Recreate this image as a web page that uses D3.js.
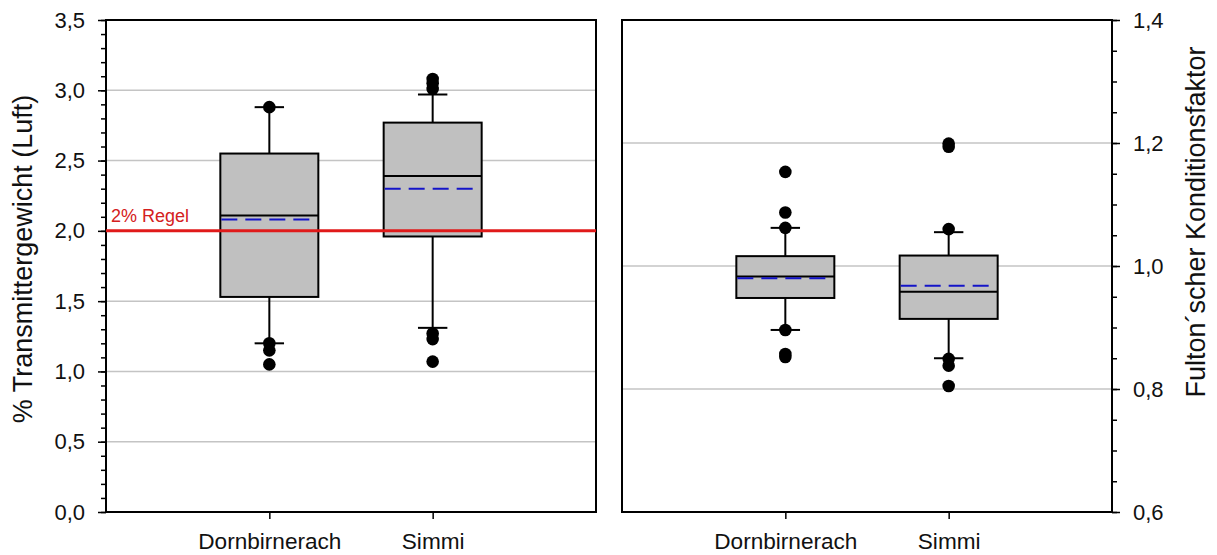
<!DOCTYPE html>
<html>
<head>
<meta charset="utf-8">
<script src="https://cdn.jsdelivr.net/npm/d3@7/dist/d3.min.js"></script>
<style>
  html, body { margin: 0; padding: 0; background: #fff; }
  svg { display: block; font-family: "Liberation Sans", Arial, sans-serif; }
</style>
</head>
<body>
<svg id="chart" width="1217" height="555"></svg>
<script>
// ---------- data ----------
const categories = ["Dornbirnerach", "Simmi"];

// Left panel: % Transmittergewicht (Luft)
const transQ1 = [1.53, 1.96];
const transMedian = [2.11, 2.39];
const transQ3 = [2.55, 2.77];
const transMean = [2.08, 2.30];
const transWhiskerLow = [1.20, 1.31];
const transWhiskerHigh = [2.88, 2.97];
const transOutliers = [
  [2.88, 1.20, 1.15, 1.05],
  [3.08, 3.05, 3.01, 1.27, 1.23, 1.07]
];
const transTicks = [0.0, 0.5, 1.0, 1.5, 2.0, 2.5, 3.0, 3.5];
const transGrid = [0.5, 1.0, 1.5, 2.0, 2.5, 3.0];
const ruleValue = 2.0;
const ruleLabel = "2% Regel";

// Right panel: Fulton´scher Konditionsfaktor
const condQ1 = [0.948, 0.914];
const condMedian = [0.983, 0.958];
const condQ3 = [1.016, 1.017];
const condMean = [0.980, 0.968];
const condWhiskerLow = [0.896, 0.850];
const condWhiskerHigh = [1.062, 1.055];
const condOutliers = [
  [1.153, 1.087, 1.062, 0.896, 0.857, 0.852],
  [1.199, 1.194, 1.060, 0.849, 0.838, 0.805]
];
const condTicks = [0.6, 0.8, 1.0, 1.2, 1.4];
const condGrid = [0.8, 1.0, 1.2];

const leftTitle = "% Transmittergewicht (Luft)";
const rightTitle = "Fulton\u00B4scher Konditionsfaktor";

// ---------- layout ----------
const svg = d3.select("#chart");
const yTop = 20, yBottom = 512;
const L = { x0: 106, x1: 596 };
const R = { x0: 622, x1: 1112 };
const fmt = d => d3.format(".1f")(d).replace(".", ",");
const tickFont = 22;
const catFont = 22.6;

function panel(p, yDomain, ticks, minorStep, grid, stats, side) {
  const x = d3.scalePoint().domain(categories).range([p.x0, p.x1]).padding(1);
  const y = d3.scaleLinear().domain(yDomain).range([yBottom, yTop]);
  const g = svg.append("g");
  const step = x.step();
  const boxW = step * 0.6;
  const capW = boxW * 0.3;

  // gridlines
  g.selectAll(".grid").data(grid).join("line")
    .attr("x1", p.x0).attr("x2", p.x1)
    .attr("y1", d => y(d)).attr("y2", d => y(d))
    .attr("stroke", "#c4c4c4").attr("stroke-width", 1.5);

  // minor ticks
  const minor = d3.range(yDomain[0], yDomain[1] + 1e-9, minorStep);
  const axisMinor = (side === "left" ? d3.axisLeft(y) : d3.axisRight(y))
    .tickValues(minor).tickSize(5).tickSizeOuter(0).tickFormat("");
  const gm = g.append("g").attr("transform", `translate(${side === "left" ? p.x0 : p.x1},0)`).call(axisMinor);
  gm.select(".domain").remove();
  gm.selectAll("line").attr("stroke", "#000").attr("stroke-width", 1.5);

  // major ticks
  const axisMajor = (side === "left" ? d3.axisLeft(y) : d3.axisRight(y))
    .tickValues(ticks).tickSize(8).tickSizeOuter(0).tickPadding(13).tickFormat(fmt);
  const ga = g.append("g").attr("transform", `translate(${side === "left" ? p.x0 : p.x1},0)`).call(axisMajor);
  ga.select(".domain").remove();
  ga.selectAll("line").attr("stroke", "#000").attr("stroke-width", 1.5);
  ga.selectAll("text").attr("font-size", tickFont).attr("fill", "#111")
    .attr("font-family", "Liberation Sans, Arial, sans-serif");

  // bottom axis
  const axisB = d3.axisBottom(x).tickSize(7).tickSizeOuter(0).tickPadding(14);
  const gb = g.append("g").attr("transform", `translate(0,${yBottom})`).call(axisB);
  gb.select(".domain").remove();
  gb.selectAll("line").attr("stroke", "#000").attr("stroke-width", 1.5);
  gb.selectAll("text").attr("font-size", catFont).attr("fill", "#111")
    .attr("font-family", "Liberation Sans, Arial, sans-serif");

  const idx = d3.range(categories.length);
  const boxes = g.append("g").selectAll("g").data(idx).join("g");

  // whiskers
  boxes.append("line")
    .attr("x1", i => x(categories[i])).attr("x2", i => x(categories[i]))
    .attr("y1", i => y(stats.q3[i])).attr("y2", i => y(stats.hi[i]))
    .attr("stroke", "#000").attr("stroke-width", 2);
  boxes.append("line")
    .attr("x1", i => x(categories[i])).attr("x2", i => x(categories[i]))
    .attr("y1", i => y(stats.q1[i])).attr("y2", i => y(stats.lo[i]))
    .attr("stroke", "#000").attr("stroke-width", 2);
  // caps
  [stats.hi, stats.lo].forEach(arr => {
    boxes.append("line")
      .attr("x1", i => x(categories[i]) - capW / 2).attr("x2", i => x(categories[i]) + capW / 2)
      .attr("y1", i => y(arr[i])).attr("y2", i => y(arr[i]))
      .attr("stroke", "#000").attr("stroke-width", 2);
  });
  // box
  boxes.append("rect")
    .attr("x", i => x(categories[i]) - boxW / 2).attr("width", boxW)
    .attr("y", i => y(stats.q3[i])).attr("height", i => y(stats.q1[i]) - y(stats.q3[i]))
    .attr("fill", "#c0c0c0").attr("stroke", "#000").attr("stroke-width", 2);
  // median
  boxes.append("line")
    .attr("x1", i => x(categories[i]) - boxW / 2).attr("x2", i => x(categories[i]) + boxW / 2)
    .attr("y1", i => y(stats.med[i])).attr("y2", i => y(stats.med[i]))
    .attr("stroke", "#000").attr("stroke-width", 2);
  // mean
  boxes.append("line")
    .attr("x1", i => x(categories[i]) - boxW / 2 + 1).attr("x2", i => x(categories[i]) + boxW / 2 - 1)
    .attr("y1", i => y(stats.mean[i])).attr("y2", i => y(stats.mean[i]))
    .attr("stroke", "#1414c8").attr("stroke-width", 2).attr("stroke-dasharray", "16,8");
  // outliers
  boxes.each(function(i) {
    d3.select(this).selectAll("circle").data(stats.out[i]).join("circle")
      .attr("cx", x(categories[i])).attr("cy", d => y(d)).attr("r", 6.3).attr("fill", "#000");
  });

  // frame
  g.append("rect").attr("x", p.x0).attr("y", yTop)
    .attr("width", p.x1 - p.x0).attr("height", yBottom - yTop)
    .attr("fill", "none").attr("stroke", "#000").attr("stroke-width", 2);

  return { x, y, g };
}

const left = panel(L, [0, 3.5], transTicks, 0.1, transGrid, {
  q1: transQ1, med: transMedian, q3: transQ3, mean: transMean,
  lo: transWhiskerLow, hi: transWhiskerHigh, out: transOutliers
}, "left");

// 2% rule
left.g.append("line")
  .attr("x1", L.x0).attr("x2", L.x1)
  .attr("y1", left.y(ruleValue)).attr("y2", left.y(ruleValue))
  .attr("stroke", "#e01a1a").attr("stroke-width", 3);
left.g.append("text")
  .attr("x", L.x0 + 5).attr("y", left.y(ruleValue) - 9)
  .attr("font-size", 18).attr("fill", "#d42020").text(ruleLabel);

const right = panel(R, [0.6, 1.4], condTicks, 0.05, condGrid, {
  q1: condQ1, med: condMedian, q3: condQ3, mean: condMean,
  lo: condWhiskerLow, hi: condWhiskerHigh, out: condOutliers
}, "right");

// axis titles
svg.append("text")
  .attr("transform", `translate(32,259) rotate(-90)`)
  .attr("text-anchor", "middle").attr("font-size", 27).attr("fill", "#111")
  .text(leftTitle);
svg.append("text")
  .attr("transform", `translate(1205,222) rotate(-90)`)
  .attr("text-anchor", "middle").attr("font-size", 27).attr("fill", "#111")
  .text(rightTitle);
</script>
</body>
</html>
